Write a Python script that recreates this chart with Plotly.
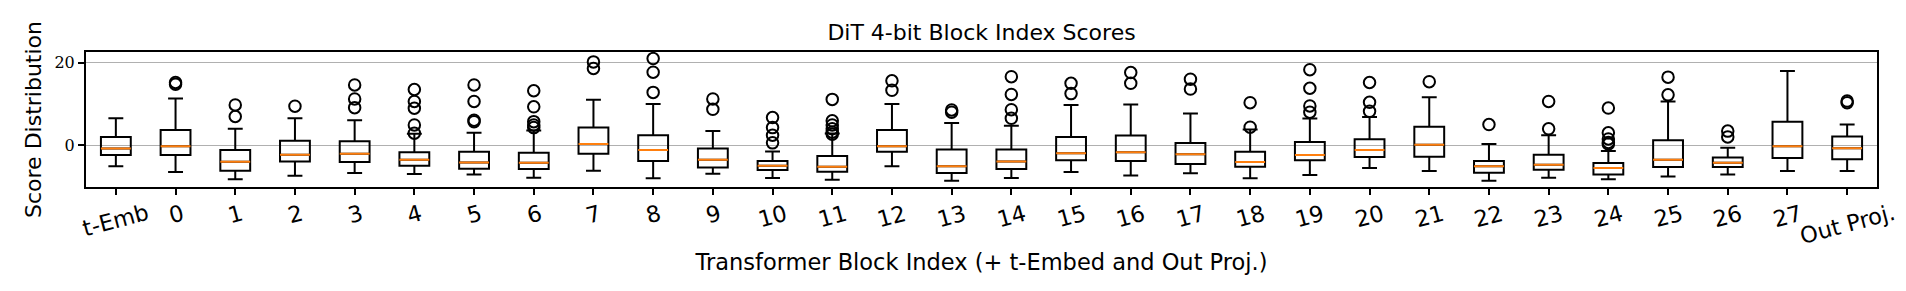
import plotly.graph_objects as go

labels = ["t-Emb"] + [str(i) for i in range(28)] + ["Out Proj."]

upper = [6.5, 11.3, 4.0, 6.5, 6.05, 2.75, 3.0, 3.55, 11.0, 10.0, 3.45, -1.55, 2.8, 10.0, 5.4,
         4.7, 9.75, 9.85, 7.65, 3.8, 6.45, 6.85, 11.6, 0.3, 2.4, -1.45, 10.6, -0.65, 18.0, 5.0]
q3 = [1.95, 3.65, -1.2, 1.05, 0.95, -1.75, -1.6, -1.85, 4.25, 2.4, -0.8, -3.85, -2.65, 3.65, -1.05,
      -1.05, 2.0, 2.35, 0.5, -1.6, 0.75, 1.45, 4.45, -3.85, -2.35, -4.35, 1.2, -3.0, 5.65, 2.1]
median = [-0.8, -0.3, -4.05, -2.35, -2.1, -3.55, -4.2, -4.25, 0.25, -1.2, -3.55, -5.0, -5.25, -0.25, -5.1,
          -3.95, -2.0, -1.7, -2.2, -4.1, -2.4, -1.2, 0.1, -5.1, -4.75, -5.55, -3.55, -4.25, -0.3, -0.75]
q1 = [-2.4, -2.4, -6.2, -3.95, -4.1, -5.0, -5.75, -5.8, -2.1, -3.85, -5.4, -6.05, -6.45, -1.6, -6.75,
      -5.8, -3.65, -3.85, -4.6, -5.25, -3.65, -2.9, -2.8, -6.7, -5.95, -7.1, -5.3, -5.3, -3.15, -3.45]
lower = [-5.15, -6.55, -8.3, -7.4, -6.75, -7.0, -7.1, -7.9, -6.2, -8.05, -6.95, -8.0, -8.4, -5.15, -8.65,
         -8.0, -6.55, -7.35, -6.85, -8.05, -7.25, -5.55, -6.3, -8.65, -7.9, -8.25, -7.6, -7.1, -6.3, -6.3]
outliers = [
    [],
    [15.2, 14.8],
    [9.75, 6.95],
    [9.45],
    [14.6, 11.2, 9.1],
    [13.5, 10.6, 8.95, 4.9, 2.9],
    [14.6, 10.6, 6.05, 5.7],
    [13.2, 9.3, 5.7, 4.9, 4.25],
    [20.2, 18.6],
    [21.0, 17.7, 12.8],
    [11.2, 8.7],
    [6.7, 4.25, 2.4, 0.55],
    [11.1, 5.9, 4.9, 3.95, 3.15, 2.65],
    [15.6, 13.3],
    [8.55, 8.0],
    [16.6, 12.3, 8.6, 6.5],
    [15.0, 12.5],
    [17.6, 15.0],
    [16.0, 13.6],
    [10.3, 4.35],
    [18.3, 13.8, 9.5, 8.0],
    [15.2, 10.4, 8.2],
    [15.4],
    [5.0],
    [10.6, 3.95],
    [9.0, 3.0, 1.5, 0.65, 0.25],
    [16.5, 12.2],
    [3.4, 2.0],
    [],
    [10.7, 10.3],
]
y_ticks = [0, 20]

SANS = "DejaVu Sans"
SERIF = "DejaVu Serif"

fig = go.Figure()
fig.add_trace(go.Box(
    x=labels, q1=q1, median=median, q3=q3, lowerfence=lower, upperfence=upper,
    boxpoints=False, width=0.5, whiskerwidth=0.5,
    line=dict(color="black", width=2), fillcolor="rgba(0,0,0,0)",
    showlegend=False, hoverinfo="skip",
))
fig.add_trace(go.Box(
    x=labels, q1=median, median=median, q3=median, lowerfence=median, upperfence=median,
    boxpoints=False, width=0.5, whiskerwidth=0,
    line=dict(color="#ff7f0e", width=2), fillcolor="rgba(0,0,0,0)",
    showlegend=False, hoverinfo="skip",
))
ox, oy = [], []
for lab, vals in zip(labels, outliers):
    for v in vals:
        ox.append(lab)
        oy.append(v)
fig.add_trace(go.Scatter(
    x=ox, y=oy, mode="markers", showlegend=False, hoverinfo="skip",
    marker=dict(symbol="circle-open", size=11.5, color="black", line=dict(width=2, color="black")),
))

# category tick labels, rotated 15 degrees and centred under each tick
# (x given as category index so numeric-looking labels map to their own slot)
for i, lab in enumerate(labels):
    fig.add_annotation(
        x=i, xref="x", y=0, yref="paper", yanchor="top", xanchor="center",
        yshift=-11, text=lab, showarrow=False, textangle=-15,
        font=dict(family=SANS, size=22.5, color="black"), borderpad=0,
    )

fig.update_layout(
    width=1906, height=291, autosize=False,
    margin=dict(l=78, r=37, t=44, b=112),
    paper_bgcolor="white", plot_bgcolor="white",
    boxmode="overlay",
    title=dict(text="DiT 4-bit Block Index Scores", x=0.5, xref="paper", xanchor="center",
               y=1 - 24 / 291, yref="container", yanchor="middle",
               font=dict(family=SANS, size=22, color="black")),
)
fig.update_xaxes(
    type="category", categoryorder="array", categoryarray=labels,
    range=[-0.5, len(labels) - 0.5],
    showline=True, linecolor="black", linewidth=2, mirror=True,
    ticks="outside", ticklen=6, tickwidth=1.5, tickcolor="black",
    showticklabels=False,
    showgrid=False, zeroline=False,
    title=dict(text="Transformer Block Index (+ t-Embed and Out Proj.)",
               font=dict(family=SANS, size=22.5, color="black"), standoff=60),
)
fig.update_yaxes(
    range=[-10.16, 22.6], tickvals=y_ticks, ticktext=[str(t) for t in y_ticks],
    showline=True, linecolor="black", linewidth=2, mirror=True,
    ticks="outside", ticklen=6, tickwidth=1.5, tickcolor="black",
    tickfont=dict(family=SERIF, size=16, color="black"),
    showgrid=True, gridcolor="#b0b0b0", gridwidth=1.3, zeroline=False,
    title=dict(text="Score Distribution", font=dict(family=SANS, size=22, color="black"), standoff=7),
)

fig.write_html("out.html")
